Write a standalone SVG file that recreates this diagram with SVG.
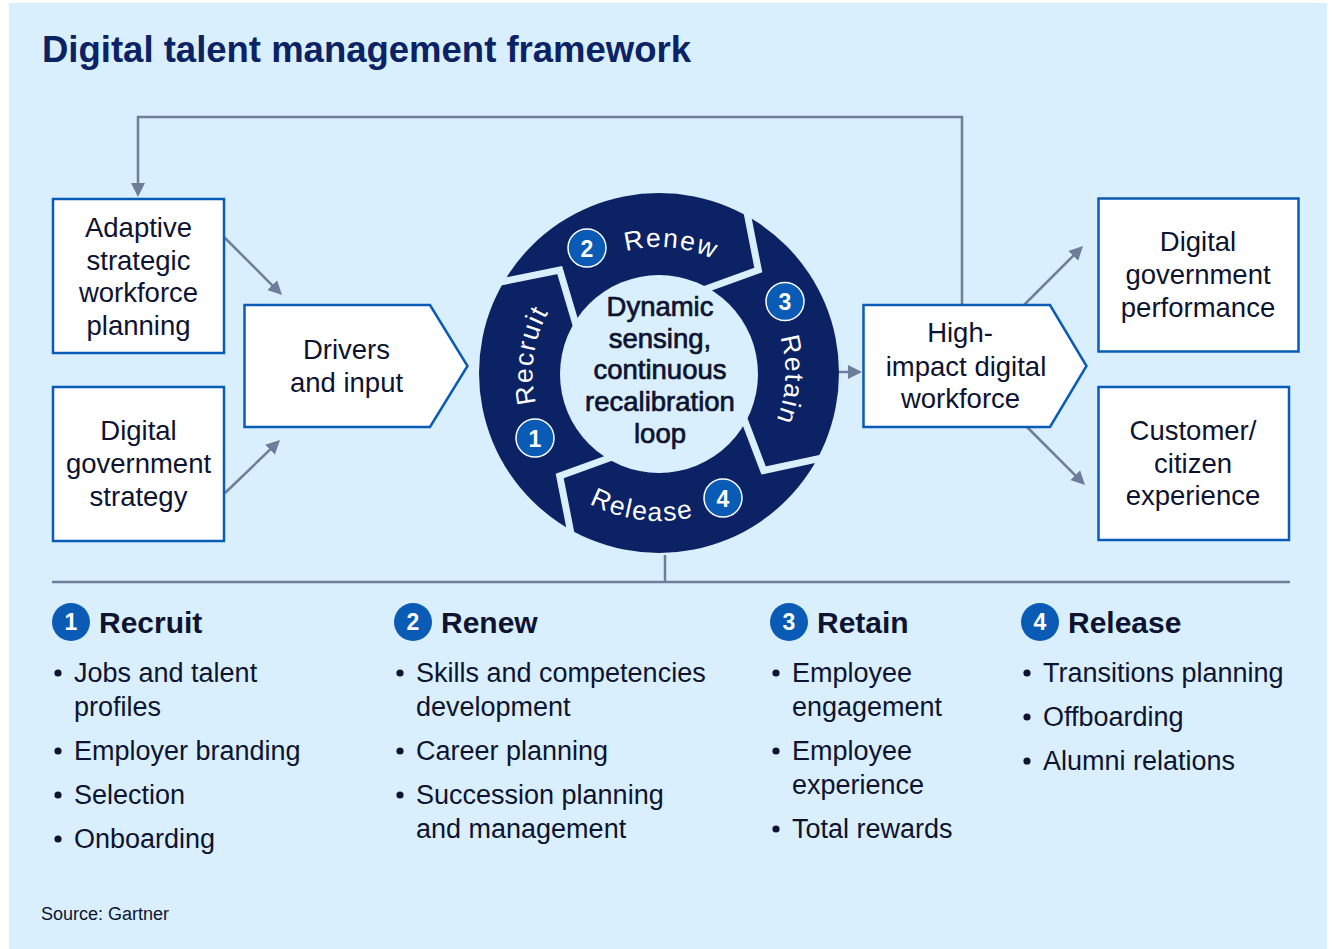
<svg xmlns="http://www.w3.org/2000/svg" width="1332" height="949" viewBox="0 0 1332 949">
  <style>
    .bg { fill: #d9effd; }
    .box { fill: #ffffff; stroke: #0a5bb5; stroke-width: 2.5; }
    .conn { fill: none; stroke: #6e7d99; stroke-width: 2.5; }
    .t { font-family: "Liberation Sans", Arial, sans-serif; fill: #0d1330; }
    .bx { font-size: 27.5px; text-anchor: middle; }
    .ctr { font-size: 27.5px; text-anchor: middle; stroke: #0d1330; stroke-width: 0.7px; }
    .ring { font-family: "Liberation Sans", Arial, sans-serif; fill: #ffffff; font-size: 26.5px; letter-spacing: 1.6px; }
    .num { font-family: "Liberation Sans", Arial, sans-serif; fill: #ffffff; font-weight: bold; font-size: 23px; text-anchor: middle; }
    .nc { fill: #0a5bb5; stroke: #ffffff; stroke-width: 1.5; }
    .lc { fill: #0a5bb5; }
    .gap { fill: none; stroke: #d9effd; stroke-width: 7; stroke-linejoin: miter; }
    .hd { font-size: 30px; font-weight: bold; }
    .li { font-size: 27px; }
    .dot { fill: #0d1330; }
  </style>
  <defs>
    <marker id="ah" markerWidth="16" markerHeight="16" refX="8" refY="8" orient="auto" markerUnits="userSpaceOnUse">
      <path d="M0,1 L14,8 L0,15 Z" fill="#6e7d99"/>
    </marker>
    <path id="cw" d="M 659 500 A 126 126 0 1 1 659 247 A 126 126 0 1 1 659 500"/>
    <path id="ccw" d="M 511 373 A 148 148 0 0 0 807 373"/>
  </defs>

  <rect class="bg" x="9" y="3" width="1318" height="946"/>

  <text id="title" class="t" x="42" y="62" font-size="36.5" font-weight="bold" style="fill:#0b2265">Digital talent management framework</text>

  <g id="connectors">
    <path class="conn" d="M 962 304 V 117 H 138 V 191" marker-end="url(#ah)"/>
    <path class="conn" d="M 225 238 L 277.8 290.8" marker-end="url(#ah)"/>
    <path class="conn" d="M 225 493 L 275.7 444.2" marker-end="url(#ah)"/>
    <path class="conn" d="M 839 372 H 856" marker-end="url(#ah)"/>
    <path class="conn" d="M 1024 305 L 1078.8 250.2" marker-end="url(#ah)"/>
    <path class="conn" d="M 1027 427 L 1080.8 480.8" marker-end="url(#ah)"/>
    <path class="conn" d="M 665 555 V 582"/>
    <path class="conn" d="M 52 582 H 1290"/>
  </g>

  <g id="node-adaptive">
    <rect class="box" x="53" y="199" width="171" height="154"/>
    <text class="t bx" x="138.5" y="237">Adaptive</text>
    <text class="t bx" x="138.5" y="269.5">strategic</text>
    <text class="t bx" x="138.5" y="302">workforce</text>
    <text class="t bx" x="138.5" y="334.5">planning</text>
  </g>

  <g id="node-strategy">
    <rect class="box" x="53" y="387" width="171" height="154"/>
    <text class="t bx" x="138.5" y="440">Digital</text>
    <text class="t bx" x="138.5" y="473">government</text>
    <text class="t bx" x="138.5" y="506">strategy</text>
  </g>

  <g id="node-drivers">
    <path class="box" d="M 244.5 305 H 430 L 467.5 366 L 430 427 H 244.5 Z"/>
    <text class="t bx" x="346.5" y="359">Drivers</text>
    <text class="t bx" x="346.5" y="392">and input</text>
  </g>

  <g id="node-loop">
    <circle cx="659" cy="373" r="180" fill="#0b2265"/>
    <circle cx="659" cy="374" r="99" class="bg"/>
    <polyline class="gap" points="496.3,282.8 559.7,270.1 576.8,327.4"/>
    <polyline class="gap" points="746.3,208.8 758.3,270.1 703.1,290.0"/>
    <polyline class="gap" points="824.7,457.4 763.6,470.5 742.8,415.7"/>
    <polyline class="gap" points="571.7,537.2 559.7,475.9 614.9,456.0"/>
    <text class="ring"><textPath href="#cw" startOffset="216" text-anchor="middle">Recruit</textPath></text>
    <text class="ring"><textPath href="#cw" startOffset="409" text-anchor="middle">Renew</textPath></text>
    <text class="ring"><textPath href="#cw" startOffset="602" text-anchor="middle">Retain</textPath></text>
    <text class="ring"><textPath href="#ccw" startOffset="214" text-anchor="middle">Release</textPath></text>
    <circle class="nc" cx="535" cy="438" r="19"/>
    <text class="num" x="535" y="446.5">1</text>
    <circle class="nc" cx="587" cy="248" r="19"/>
    <text class="num" x="587" y="256.5">2</text>
    <circle class="nc" cx="785" cy="301.5" r="19"/>
    <text class="num" x="785" y="310">3</text>
    <circle class="nc" cx="723" cy="498" r="19"/>
    <text class="num" x="723" y="506.5">4</text>
    <text class="t ctr" x="660" y="316">Dynamic</text>
    <text class="t ctr" x="660" y="347.5">sensing,</text>
    <text class="t ctr" x="660" y="379">continuous</text>
    <text class="t ctr" x="660" y="411">recalibration</text>
    <text class="t ctr" x="660" y="443">loop</text>
  </g>

  <g id="node-workforce">
    <path class="box" d="M 863.5 305 H 1050 L 1086.5 366 L 1050 427 H 863.5 Z"/>
    <text class="t bx" x="960" y="342">High-</text>
    <text class="t bx" x="966" y="376">impact digital</text>
    <text class="t bx" x="960.5" y="408">workforce</text>
  </g>

  <g id="node-performance">
    <rect class="box" x="1098.5" y="198.5" width="200" height="153"/>
    <text class="t bx" x="1198" y="251">Digital</text>
    <text class="t bx" x="1198" y="284">government</text>
    <text class="t bx" x="1198" y="317">performance</text>
  </g>

  <g id="node-experience">
    <rect class="box" x="1098.5" y="387" width="190.5" height="153"/>
    <text class="t bx" x="1193" y="439.5">Customer/</text>
    <text class="t bx" x="1193" y="472.5">citizen</text>
    <text class="t bx" x="1193" y="505">experience</text>
  </g>

  <g id="legend-recruit">
    <circle class="lc" cx="71" cy="622" r="19"/>
    <text class="num" x="71" y="630">1</text>
    <text class="t hd" x="99" y="633">Recruit</text>
    <circle class="dot" cx="58" cy="673" r="3.6"/>
    <text class="t li" x="74" y="682">Jobs and talent</text>
    <text class="t li" x="74" y="716">profiles</text>
    <circle class="dot" cx="58" cy="751" r="3.6"/>
    <text class="t li" x="74" y="760">Employer branding</text>
    <circle class="dot" cx="58" cy="795" r="3.6"/>
    <text class="t li" x="74" y="804">Selection</text>
    <circle class="dot" cx="58" cy="839" r="3.6"/>
    <text class="t li" x="74" y="848">Onboarding</text>
  </g>

  <g id="legend-renew">
    <circle class="lc" cx="413" cy="622" r="19"/>
    <text class="num" x="413" y="630">2</text>
    <text class="t hd" x="441" y="633">Renew</text>
    <circle class="dot" cx="400" cy="673" r="3.6"/>
    <text class="t li" x="416" y="682">Skills and competencies</text>
    <text class="t li" x="416" y="716">development</text>
    <circle class="dot" cx="400" cy="751" r="3.6"/>
    <text class="t li" x="416" y="760">Career planning</text>
    <circle class="dot" cx="400" cy="795" r="3.6"/>
    <text class="t li" x="416" y="804">Succession planning</text>
    <text class="t li" x="416" y="838">and management</text>
  </g>

  <g id="legend-retain">
    <circle class="lc" cx="789" cy="622" r="19"/>
    <text class="num" x="789" y="630">3</text>
    <text class="t hd" x="817" y="633">Retain</text>
    <circle class="dot" cx="776" cy="673" r="3.6"/>
    <text class="t li" x="792" y="682">Employee</text>
    <text class="t li" x="792" y="716">engagement</text>
    <circle class="dot" cx="776" cy="751" r="3.6"/>
    <text class="t li" x="792" y="760">Employee</text>
    <text class="t li" x="792" y="794">experience</text>
    <circle class="dot" cx="776" cy="829" r="3.6"/>
    <text class="t li" x="792" y="838">Total rewards</text>
  </g>

  <g id="legend-release">
    <circle class="lc" cx="1040" cy="622" r="19"/>
    <text class="num" x="1040" y="630">4</text>
    <text class="t hd" x="1068" y="633">Release</text>
    <circle class="dot" cx="1027" cy="673" r="3.6"/>
    <text class="t li" x="1043" y="682">Transitions planning</text>
    <circle class="dot" cx="1027" cy="717" r="3.6"/>
    <text class="t li" x="1043" y="726">Offboarding</text>
    <circle class="dot" cx="1027" cy="761" r="3.6"/>
    <text class="t li" x="1043" y="770">Alumni relations</text>
  </g>

  <text id="source" class="t" x="41" y="920" font-size="18">Source: Gartner</text>
</svg>
